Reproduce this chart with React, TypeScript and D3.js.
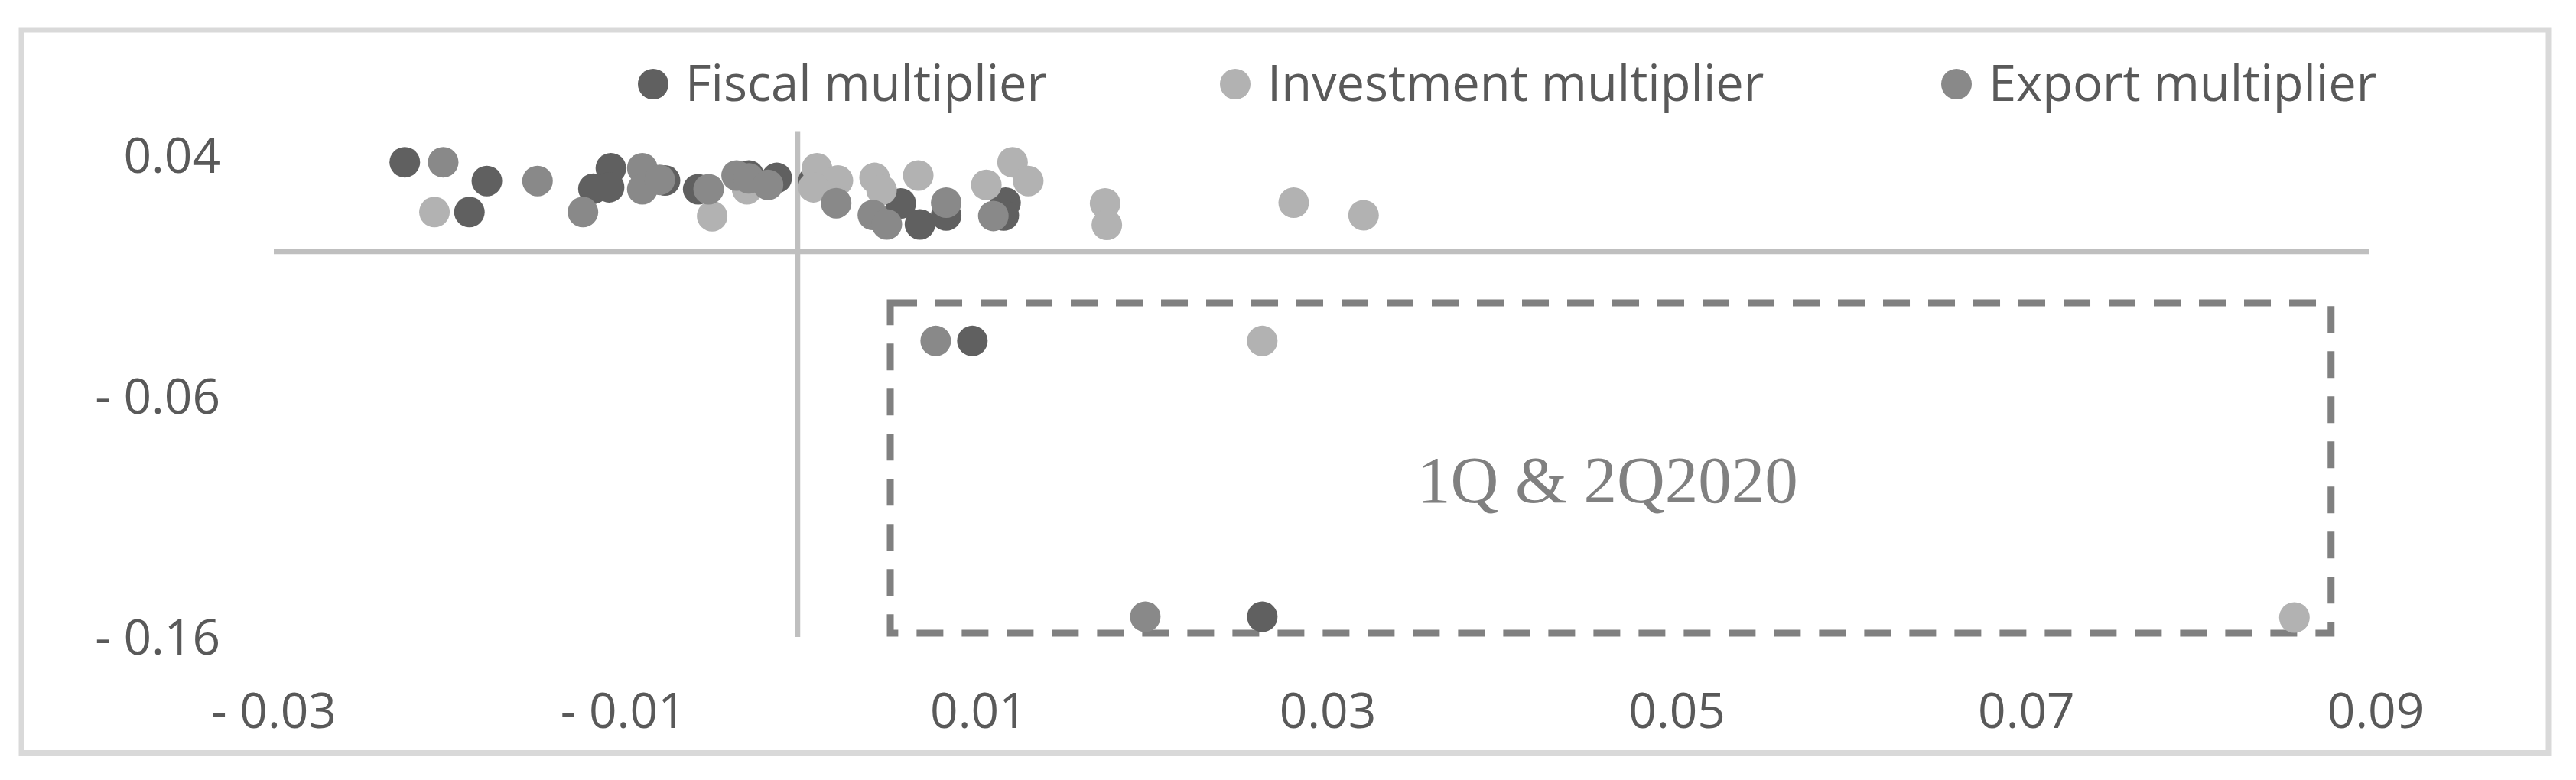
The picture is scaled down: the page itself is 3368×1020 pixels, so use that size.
import React from "react";
import * as d3 from "d3";

// values
const fiscalX = [-0.0225, -0.0178, -0.0188, -0.0107, -0.0117, -0.0108, -0.0076, -0.0057, -0.0028, -0.0012, 0.0009, 0.0059, 0.007, 0.0085, 0.0119, 0.0118, 0.01, 0.0266];
const fiscalY = [0.0371, 0.0293, 0.0164, 0.0346, 0.0261, 0.0267, 0.0295, 0.0259, 0.0316, 0.0306, 0.0293, 0.02, 0.0113, 0.015, 0.0203, 0.015, -0.0371, -0.1516];

const investX = [-0.0208, -0.0049, -0.0029, 0.0011, 0.0023, 0.0009, 0.0044, 0.0048, 0.0069, 0.0123, 0.0132, 0.0108, 0.0176, 0.0177, 0.0284, 0.0324, 0.0266, 0.0857];
const investY = [0.0164, 0.0147, 0.0259, 0.0346, 0.0295, 0.0267, 0.0306, 0.0256, 0.0316, 0.0371, 0.0293, 0.0277, 0.02, 0.0111, 0.0203, 0.0151, -0.0371, -0.1519];

const exportX = [-0.0203, -0.0149, -0.0123, -0.0089, -0.0089, -0.0079, -0.0051, -0.0035, -0.0028, -0.0017, 0.0022, 0.0043, 0.0051, 0.0085, 0.0112, 0.0079, 0.0199];
const exportY = [0.0371, 0.0293, 0.0164, 0.0346, 0.0259, 0.0298, 0.0259, 0.0316, 0.0304, 0.0277, 0.0201, 0.0152, 0.0113, 0.0203, 0.0148, -0.0371, -0.1516];

const xTicks = [-0.03, -0.01, 0.01, 0.03, 0.05, 0.07, 0.09];
const yTicks = [-0.16, -0.06, 0.04];

const seriesNames = ["Fiscal multiplier", "Investment multiplier", "Export multiplier"];

// highlighted area (data coords)
const boxX = [0.0053, 0.0878];
const boxY = [-0.0213, -0.1584];
const boxLabel = "1Q & 2Q2020";

const W = 3368;
const H = 1020;

const colors = ["#606060", "#b2b2b2", "#898989"];
const textColor = "#595959";
const font = "'Open Sans', sans-serif";

const fmt = (v: number) => (v < 0 ? "- " + Math.abs(v).toFixed(2) : v.toFixed(2));

export default function App() {
  const x = d3.scaleLinear().domain([-0.03, 0.09]).range([358, 3098]);
  const y = d3.scaleLinear().domain([-0.16, 0.05]).range([833, 171.5]);

  const series = [
    { name: seriesNames[0], xs: fiscalX, ys: fiscalY, color: colors[0] },
    { name: seriesNames[1], xs: investX, ys: investY, color: colors[1] },
    { name: seriesNames[2], xs: exportX, ys: exportY, color: colors[2] },
  ];

  const legendX = [854, 1615, 2558];

  const bx0 = x(boxX[0]);
  const bx1 = x(boxX[1]);
  const by0 = y(boxY[0]);
  const by1 = y(boxY[1]);

  return (
    <svg
      width={W}
      height={H}
      style={{ position: "absolute", left: 0, top: 0, display: "block", background: "#fff" }}
    >
      <rect x={0} y={0} width={W} height={H} fill="#fff" />
      {/* chart frame */}
      <rect x={28} y={39} width={3304} height={945.5} fill="none" stroke="#d9d9d9" strokeWidth={7} />

      {/* axes crossing at zero */}
      <line x1={x(-0.03)} x2={x(0.09)} y1={y(0)} y2={y(0)} stroke="#bfbfbf" strokeWidth={6.5} />
      <line x1={x(0)} x2={x(0)} y1={y(0.05)} y2={y(-0.16)} stroke="#bfbfbf" strokeWidth={6.5} />

      {/* y labels */}
      <g fontFamily={font} fontSize={64} fill={textColor} textAnchor="end">
        {yTicks.map((t) => (
          <text key={t} x={288} y={y(t)} dy={23}>
            {fmt(t)}
          </text>
        ))}
      </g>

      {/* x labels */}
      <g fontFamily={font} fontSize={64} fill={textColor} textAnchor="middle">
        {xTicks.map((t) => (
          <text key={t} x={x(t) + (t > 0 ? 8 : 0)} y={952}>
            {fmt(t)}
          </text>
        ))}
      </g>

      {/* dashed highlight box */}
      <rect
        x={bx0}
        y={by0}
        width={bx1 - bx0}
        height={by1 - by0}
        fill="none"
        stroke="#808080"
        strokeWidth={9}
        strokeDasharray="35 24"
      />
      <text
        x={(bx0 + bx1) / 2 - 4}
        y={657}
        textAnchor="middle"
        fontFamily="'Liberation Serif', 'DejaVu Serif', serif"
        fontSize={87}
        fill="#808080"
      >
        {boxLabel}
      </text>

      {/* points */}
      {series.map((s) => (
        <g key={s.name} fill={s.color}>
          {s.xs.map((v, i) => (
            <circle key={i} cx={x(v)} cy={y(s.ys[i])} r={20} />
          ))}
        </g>
      ))}

      {/* legend */}
      <g fontFamily={font} fontSize={65} fill={textColor}>
        {series.map((s, i) => (
          <g key={s.name}>
            <circle cx={legendX[i]} cy={110} r={20} fill={s.color} />
            <text x={legendX[i] + 42} y={132}>
              {s.name}
            </text>
          </g>
        ))}
      </g>
    </svg>
  );
}
